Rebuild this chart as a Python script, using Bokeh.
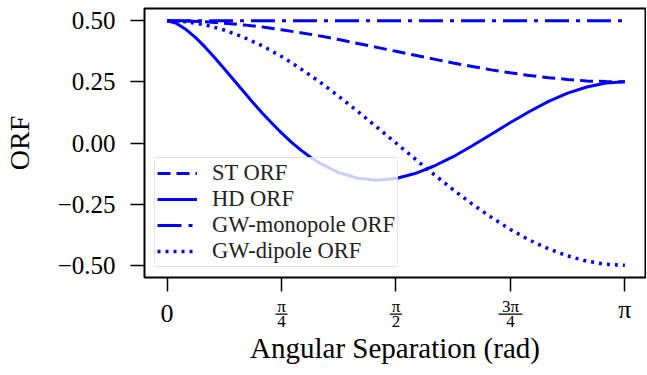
import numpy as np
from bokeh.plotting import figure
from bokeh.layouts import column
from bokeh.models import Range1d, FixedTicker, Legend, LegendItem
from bokeh.core.properties import value
from bokeh.embed import file_html
from bokeh.resources import INLINE

# ---- data ----
zeta_deg = [0, 7.5, 15, 22.5, 30, 37.5, 45, 52.5, 60, 67.5, 75, 82.5, 90,
            97.5, 105, 112.5, 120, 127.5, 135, 142.5, 150, 157.5, 165, 172.5, 180]
st_orf = [0.500, 0.499, 0.496, 0.490, 0.483, 0.474, 0.463, 0.451, 0.438, 0.423,
          0.407, 0.391, 0.375, 0.359, 0.343, 0.327, 0.313, 0.299, 0.287, 0.276,
          0.267, 0.260, 0.254, 0.251, 0.250]
monopole_orf = [0.5, 0.5, 0.5, 0.5, 0.5, 0.5, 0.5, 0.5, 0.5, 0.5, 0.5, 0.5, 0.5,
                0.5, 0.5, 0.5, 0.5, 0.5, 0.5, 0.5, 0.5, 0.5, 0.5, 0.5, 0.5]
dipole_orf = [0.500, 0.496, 0.483, 0.462, 0.433, 0.397, 0.354, 0.304, 0.250, 0.191,
              0.129, 0.065, 0.000, -0.065, -0.129, -0.191, -0.250, -0.304, -0.354, -0.397,
              -0.433, -0.462, -0.483, -0.496, -0.500]
hd_zeta_deg = [0, 3.75, 7.5, 11.25, 15, 18.75, 22.5, 26.25, 30, 33.75, 37.5, 41.25,
               45, 48.75, 52.5, 56.25, 60, 67.5, 75, 82.5, 90, 97.5, 105, 112.5, 120,
               127.5, 135, 142.5, 150, 157.5, 165, 172.5, 180]
hd_orf = [0.500, 0.489, 0.464, 0.431, 0.392, 0.349, 0.304, 0.258, 0.212, 0.166, 0.122,
          0.081, 0.041, 0.005, -0.028, -0.057, -0.082, -0.121, -0.144, -0.152, -0.145,
          -0.125, -0.094, -0.056, -0.011, 0.036, 0.084, 0.129, 0.170, 0.204, 0.229,
          0.245, 0.250]
series_names = ["ST ORF", "HD ORF", "GW-monopole ORF", "GW-dipole ORF"]

x_tick_values = [0.0, np.pi / 4, np.pi / 2, 3 * np.pi / 4, np.pi]
x_tick_nums = ["0", "π", "π", "3π", "π"]
x_tick_dens = ["", "4", "2", "4", ""]
y_tick_values = [-0.5, -0.25, 0.0, 0.25, 0.5]
y_tick_labels = ["\u22120.50", "\u22120.25", "0.00", "0.25", "0.50"]
x_label = "Angular Separation (rad)"
y_label = "ORF"

zeta = np.radians(zeta_deg)
hd_zeta = np.radians(hd_zeta_deg)

FONT = "Liberation Serif"
BLUE = "#0000ff"
W = 646
H_MAIN = 292
H_TICKS = 80

p = figure(width=W, height=H_MAIN, output_backend="svg", toolbar_location=None,
           x_range=Range1d(-0.1545, 3.283), y_range=Range1d(-0.55, 0.55),
           min_border_left=140, min_border_right=1, min_border_top=8,
           min_border_bottom=15)
p.background_fill_color = "white"
p.border_fill_color = "white"
p.outline_line_color = "black"
p.outline_line_width = 2
p.grid.visible = False

r_st = p.line(zeta, st_orf, line_color=BLUE, line_width=3, line_dash="13 6")
r_hd = p.line(hd_zeta, hd_orf, line_color=BLUE, line_width=3)
r_mono = p.line(zeta, monopole_orf, line_color=BLUE, line_width=3, line_dash="24 7 4 7")
r_dip = p.line(zeta, dipole_orf, line_color=BLUE, line_width=3.5, line_dash="3 5")

for ax in (p.xaxis[0], p.yaxis[0]):
    ax.axis_line_color = None
    ax.major_tick_in = 0
    ax.major_tick_out = 14
    ax.major_tick_line_width = 1.5
    ax.major_tick_line_color = "black"
    ax.minor_tick_line_color = None
    ax.major_label_text_font = FONT
    ax.major_label_text_font_size = "25px"
    ax.major_label_text_color = "black"
    ax.axis_label_text_font = FONT
    ax.axis_label_text_font_size = "28px"
    ax.axis_label_text_font_style = "normal"
    ax.axis_label_text_color = "black"

p.yaxis.ticker = FixedTicker(ticks=y_tick_values)
p.yaxis.major_label_overrides = {v: s for v, s in zip(y_tick_values, y_tick_labels)}
p.yaxis.major_label_standoff = 15
p.yaxis.axis_label = y_label
p.yaxis.axis_label_standoff = 20

p.xaxis.ticker = FixedTicker(ticks=x_tick_values)
p.xaxis.major_label_overrides = {v: "" for v in x_tick_values}
p.xaxis.major_label_text_font_size = "0px"
p.xaxis.major_label_standoff = 0

legend = Legend(items=[LegendItem(label=n, renderers=[r]) for n, r in
                       zip(series_names, [r_st, r_hd, r_mono, r_dip])],
                location="bottom_left")
legend.margin = 10
legend.padding = 2
legend.spacing = 0
legend.glyph_width = 40
legend.glyph_height = 24
legend.label_height = 24
legend.label_standoff = 15
legend.label_text_font = FONT
legend.label_text_font_size = "22.5px"
legend.label_text_color = "#222222"
legend.background_fill_color = "white"
legend.background_fill_alpha = 0.8
legend.border_line_color = "#cccccc"
legend.border_line_width = 1.5
p.add_layout(legend)

# ---- tick-label strip below the frame (fraction labels + axis title) ----
p2 = figure(width=W, height=H_TICKS, output_backend="svg", toolbar_location=None,
            x_range=p.x_range, y_range=Range1d(-H_TICKS, 0),
            x_axis_type=None, y_axis_type=None,
            min_border_left=140, min_border_right=1, min_border_top=0,
            min_border_bottom=0)
p2.outline_line_color = None
p2.grid.visible = False
p2.background_fill_color = "white"
p2.border_fill_color = "white"

frac_x = [xv for xv, d in zip(x_tick_values, x_tick_dens) if d]
frac_num = [n for n, d in zip(x_tick_nums, x_tick_dens) if d]
frac_den = [d for d in x_tick_dens if d]
single_x = [xv for xv, d in zip(x_tick_values, x_tick_dens) if not d]
single_txt = [n for n, d in zip(x_tick_nums, x_tick_dens) if not d]
bar_px = [12 if len(n) == 1 else 24 for n in frac_num]
single_y = [-21.3 if t == "0" else -17.2 for t in single_txt]

NUM_Y, BAR_Y, DEN_Y, TITLE_Y = -14.0, -21.7, -29.3, -55.5

p2.text(x=frac_x, y=[NUM_Y] * len(frac_x), text=frac_num, text_font=value(FONT),
        text_font_size=value("17px"), text_align="center", text_baseline="middle",
        text_color="black")
p2.rect(x=frac_x, y=[BAR_Y] * len(frac_x), width=bar_px, height=1.3,
        width_units="screen", height_units="screen", fill_color="black", line_color=None)
p2.text(x=frac_x, y=[DEN_Y] * len(frac_x), text=frac_den, text_font=value(FONT),
        text_font_size=value("17px"), text_align="center", text_baseline="middle",
        text_color="black")
p2.text(x=single_x, y=single_y, text=single_txt, text_font=value(FONT),
        text_font_size=value("26px"), text_align="center", text_baseline="middle",
        text_color="black")
p2.text(x=[(p.x_range.start + p.x_range.end) / 2], y=[TITLE_Y], text=[x_label],
        text_font=value(FONT), text_font_size=value("29px"), text_align="center",
        text_baseline="middle", text_color="black")

layout = column(p, p2, spacing=0)
open("out.html", "w").write(file_html(layout, INLINE))
